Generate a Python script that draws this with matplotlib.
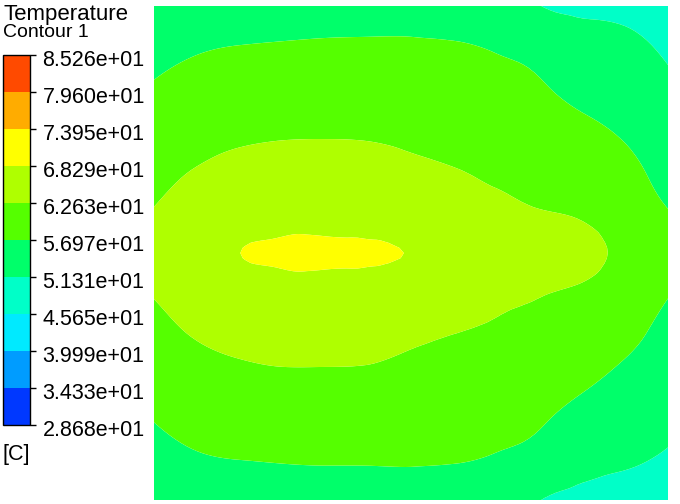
import numpy as np
import matplotlib
matplotlib.use('Agg')
import matplotlib.pyplot as plt
import matplotlib.tri as mtri
from matplotlib.transforms import ScaledTranslation

plt.rcParams['font.family'] = ['Liberation Sans', 'DejaVu Sans']

# contour levels and legend text
levels = [28.68, 34.33, 39.99, 45.65, 51.31, 56.97, 62.63, 68.29, 73.95, 79.60, 85.26]
tick_labels = ['2.868e+01', '3.433e+01', '3.999e+01', '4.565e+01', '5.131e+01', '5.697e+01',
               '6.263e+01', '6.829e+01', '7.395e+01', '7.960e+01', '8.526e+01']
band_colors = ['#0038ff', '#009cff', '#00eaff', '#00ffc8', '#00ff6a',
               '#55ff00', '#afff00', '#ffff00', '#ffac00', '#ff4a00']

# temperature [C] sampled on a 13 x 13 grid, rows from top to bottom, columns left to right
temp = np.array([
    [53.57, 54.48, 54.82, 54.93, 55.16, 55.33, 55.44, 55.44, 55.10, 51.42, 50.57, 50.29, 48.93],
    [55.44, 56.57, 57.08, 57.31, 57.48, 57.53, 57.48, 57.25, 56.70, 55.20, 53.12, 52.33, 50.57],
    [57.36, 58.67, 59.34, 59.63, 59.74, 59.74, 59.46, 59.06, 58.50, 57.42, 55.61, 54.31, 52.22],
    [59.23, 60.76, 61.66, 62.00, 62.06, 61.95, 61.49, 60.93, 60.25, 59.23, 57.93, 56.29, 53.86],
    [61.15, 62.85, 63.87, 64.38, 64.49, 64.32, 63.59, 62.80, 61.95, 60.99, 59.91, 58.10, 55.50],
    [62.90, 65.25, 66.42, 66.90, 66.93, 66.76, 66.42, 65.40, 64.10, 62.85, 61.95, 59.85, 57.14],
    [64.60, 67.15, 68.28, 68.62, 68.63, 68.55, 68.23, 67.44, 66.59, 65.46, 64.04, 61.61, 58.67],
    [62.90, 65.25, 66.42, 66.90, 66.93, 66.76, 66.40, 65.30, 64.10, 62.91, 61.72, 59.80, 57.19],
    [61.10, 62.91, 63.93, 64.44, 64.49, 64.32, 63.42, 62.57, 61.95, 61.04, 59.80, 57.99, 55.61],
    [59.18, 60.82, 61.66, 62.06, 62.06, 61.95, 61.33, 60.82, 60.25, 59.23, 57.87, 56.01, 54.03],
    [57.19, 58.67, 59.34, 59.63, 59.68, 59.68, 59.34, 59.01, 58.55, 57.48, 55.55, 53.97, 52.44],
    [55.27, 56.57, 57.03, 57.25, 57.36, 57.36, 57.36, 57.19, 56.70, 55.20, 52.89, 51.88, 50.86],
    [53.35, 54.42, 54.71, 54.88, 54.99, 55.10, 55.38, 55.38, 55.16, 51.42, 50.23, 49.84, 49.27],
])

ny, nx = temp.shape
xs = np.linspace(0, 1, nx)
ys = np.linspace(1, 0, ny)  # first row is the top edge
X, Y = np.meshgrid(xs, ys)

tri = mtri.Triangulation(X.ravel(), Y.ravel())
refiner = mtri.UniformTriRefiner(tri)
tri_f, temp_f = refiner.refine_field(temp.ravel(), subdiv=3)

fig = plt.figure(figsize=(6.8, 5.04), dpi=100)
ax = fig.add_axes([154 / 680, 4 / 504, 514 / 680, 494 / 504])
cf = ax.tricontourf(tri_f, temp_f, levels=levels, colors=band_colors, antialiased=True)
ax.set_xlim(0, 1)
ax.set_ylim(0, 1)
ax.axis('off')

# colour legend on the left
cax = fig.add_axes([3 / 680, 79 / 504, 27 / 680, 370 / 504])
cb = fig.colorbar(cf, cax=cax)
cb.set_ticks(levels)
cb.set_ticklabels(tick_labels)
cb.outline.set_linewidth(1.0)
cax.tick_params(axis='y', length=4, width=1, direction='out', labelsize=15.5, pad=5)
shift = ScaledTranslation(0, -3 / 100, fig.dpi_scale_trans)
for lab in cax.get_yticklabels():
    lab.set_transform(lab.get_transform() + shift)

fig.text(3 / 680, 1 - 20 / 504, 'Temperature', fontsize=16, va='baseline', ha='left')
fig.text(3 / 680, 1 - 37 / 504, 'Contour 1', fontsize=14, va='baseline', ha='left')
fig.text(3 / 680, 1 - 460 / 504, '[C]', fontsize=15.5, va='baseline', ha='left')

fig.savefig('out.png', dpi=100)
